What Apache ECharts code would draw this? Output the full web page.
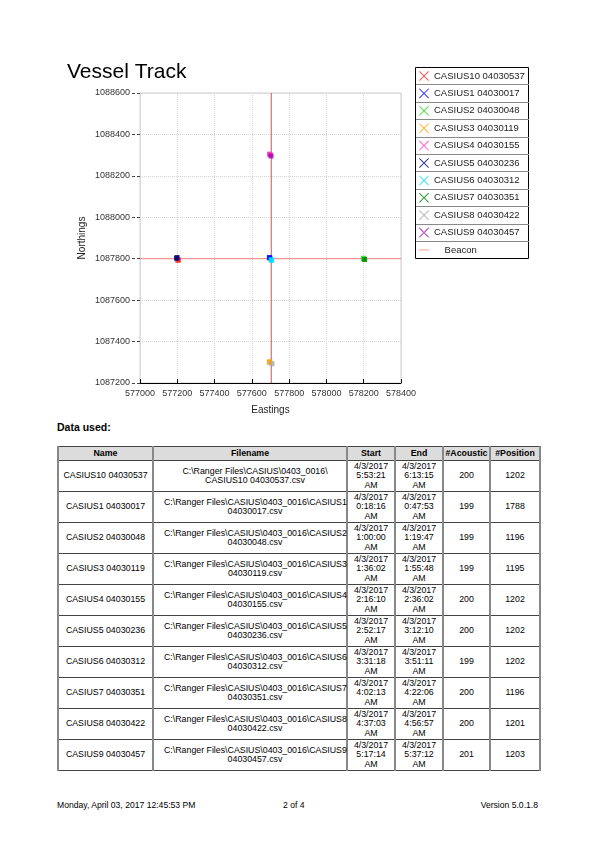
<!DOCTYPE html>
<html>
<head>
<meta charset="utf-8">
<script src="https://cdn.jsdelivr.net/npm/echarts@6/dist/echarts.min.js"></script>
<style>
  html, body { margin: 0; padding: 0; background: #fff; }
  body { width: 595px; height: 842px; position: relative; font-family: "Liberation Sans", Arial, sans-serif; color: #000; }
  #chart { position: absolute; left: 0; top: 0; width: 595px; height: 420px; }
  #dataUsed { position: absolute; left: 57px; top: 421px; font-size: 10.5px; font-weight: bold; }
  #tbl { position: absolute; left: 57px; top: 446px; width: 482px; border-collapse: collapse; table-layout: fixed; font-size: 8.8px; }
  #tbl th, #tbl td { border-top: 1px solid #444; border-bottom: 1px solid #444; border-left: 2px solid #888; border-right: 2px solid #888; text-align: center; vertical-align: middle; padding: 0; }
  #tbl th { background: #dcdcdc; height: 13px; font-weight: bold; line-height: 11px; }
  #tbl td { height: 30px; line-height: 9.5px; }
  #tbl td.fn { white-space: nowrap; padding-left: 10px; padding-right: 0; overflow: visible; }
  .foot { position: absolute; top: 800px; font-size: 8.6px; }
</style>
</head>
<body>
<div id="chart"></div>
<div id="dataUsed">Data used:</div>
<table id="tbl"></table>
<div class="foot" style="left:57px">Monday, April 03, 2017 12:45:53 PM</div>
<div class="foot" style="left:283px">2 of 4</div>
<div class="foot" style="right:57px">Version 5.0.1.8</div>
<script>
// ---------- data ----------
const seriesNames = ['CASIUS10 04030537','CASIUS1 04030017','CASIUS2 04030048','CASIUS3 04030119','CASIUS4 04030155',
                     'CASIUS5 04030236','CASIUS6 04030312','CASIUS7 04030351','CASIUS8 04030422','CASIUS9 04030457'];
const seriesColors = ['#ff2a2a','#0000ff','#22dd22','#ffa000','#ff30c0','#000080','#00e0ff','#008000','#a8a8a8','#a000b0'];
const casius10 = [[577206,1087795],[577203,1087792]];
const casius1  = [[577697,1087803],[577694,1087806]];
const casius2  = [[578198,1087802],[578203,1087798]];
const casius3  = [[577697,1087303],[577694,1087300]];
const casius4  = [[577698,1088302],[577695,1088305]];
const casius5  = [[577196,1087802],[577199,1087806]];
const casius6  = [[577703,1087795],[577706,1087792]];
const casius7  = [[578205,1087796]];
const casius8  = [[577708,1087293]];
const casius9  = [[577703,1088296]];
const seriesPoints = [casius10, casius1, casius2, casius3, casius4, casius5, casius6, casius7, casius8, casius9];
const beaconHorizontal = [[577000,1087800],[578400,1087800]];
const beaconVertical = [[577704,1088600],[577704,1087200]];
const eastMin = 577000, eastMax = 578400, eastStep = 200;
const northMin = 1087200, northMax = 1088600, northStep = 200;

// table
const tableHeaders = ['Name','Filename','Start','End','#Acoustic','#Position'];
const fileNames = ['C:\\Ranger Files\\CASIUS\\0403_0016\\\nCASIUS10 04030537.csv',
  'C:\\Ranger Files\\CASIUS\\0403_0016\\CASIUS1\n04030017.csv',
  'C:\\Ranger Files\\CASIUS\\0403_0016\\CASIUS2\n04030048.csv',
  'C:\\Ranger Files\\CASIUS\\0403_0016\\CASIUS3\n04030119.csv',
  'C:\\Ranger Files\\CASIUS\\0403_0016\\CASIUS4\n04030155.csv',
  'C:\\Ranger Files\\CASIUS\\0403_0016\\CASIUS5\n04030236.csv',
  'C:\\Ranger Files\\CASIUS\\0403_0016\\CASIUS6\n04030312.csv',
  'C:\\Ranger Files\\CASIUS\\0403_0016\\CASIUS7\n04030351.csv',
  'C:\\Ranger Files\\CASIUS\\0403_0016\\CASIUS8\n04030422.csv',
  'C:\\Ranger Files\\CASIUS\\0403_0016\\CASIUS9\n04030457.csv'];
const runDate = '4/3/2017';
const startTimes = ['5:53:21','0:18:16','1:00:00','1:36:02','2:16:10','2:52:17','3:31:18','4:02:13','4:37:03','5:17:14'];
const endTimes   = ['6:13:15','0:47:53','1:19:47','1:55:48','2:36:02','3:12:10','3:51:11','4:22:06','4:56:57','5:37:12'];
const acousticCounts = [200,199,199,199,200,200,199,200,200,201];
const positionCounts = [1202,1788,1196,1195,1202,1202,1202,1196,1201,1203];

// ---------- table ----------
const colWidths = [95,194,48,48,47,50];
const esc = s => s.replace(/&/g,'&amp;').replace(/</g,'&lt;');
let html = '<colgroup>' + colWidths.map(w => '<col style="width:' + w + 'px">').join('') + '</colgroup>';
html += '<tr>' + tableHeaders.map(h => '<th>' + esc(h) + '</th>').join('') + '</tr>';
for (let i = 0; i < seriesNames.length; i++) {
  html += '<tr><td>' + esc(seriesNames[i]) + '</td>' +
    '<td class="fn">' + esc(fileNames[i]).replace('\n','<br>') + '</td>' +
    '<td>' + runDate + '<br>' + startTimes[i] + '<br>AM</td>' +
    '<td>' + runDate + '<br>' + endTimes[i] + '<br>AM</td>' +
    '<td>' + acousticCounts[i] + '</td><td>' + positionCounts[i] + '</td></tr>';
}
document.getElementById('tbl').innerHTML = html;

// ---------- chart ----------
const FONT = '"Liberation Sans", Arial, sans-serif';
const xIcon = 'path://M0,0.7L0.7,0L10,9.3L9.3,10Z M9.3,0L10,0.7L0.7,10L0,9.3Z';
const lineIcon = 'path://M0,4.6L10,4.6L10,5.4L0,5.4Z';
const chart = echarts.init(document.getElementById('chart'), null, {renderer: 'canvas'});
const series = seriesNames.map((n, i) => ({
  name: n, type: 'scatter', data: seriesPoints[i], symbol: 'rect', symbolSize: 5,
  itemStyle: {color: seriesColors[i]}, z: 5, animation: false
}));
series.push({name: 'Beacon', type: 'line', data: beaconHorizontal, showSymbol: false, symbol: 'none',
  lineStyle: {color: '#f28080', width: 1}, itemStyle: {color: '#f28080'}, z: 3, animation: false});
series.push({name: 'Beacon', type: 'line', data: beaconVertical, showSymbol: false, symbol: 'none',
  lineStyle: {color: '#c45656', width: 1}, itemStyle: {color: '#f28080'}, z: 3, animation: false});

const sepLines = [];
for (let k = 1; k <= 10; k++) {
  const y = Math.round(67 + 17.4 * k) + 0.5;
  sepLines.push({type: 'line', shape: {x1: 416, y1: y, x2: 529, y2: y}, style: {stroke: '#8a8a8a', lineWidth: 1}, z: 1});
}

chart.setOption({
  animation: false,
  title: {text: 'Vessel Track', left: 67, top: 62, padding: 0,
    textStyle: {fontFamily: FONT, fontSize: 21, fontWeight: 'normal', color: '#000'}},
  grid: {left: 140, top: 93, width: 261, height: 290, show: true, borderColor: '#cfcfcf', borderWidth: 1, containLabel: false},
  legend: {
    orient: 'vertical', left: 419, top: 70, padding: 0, itemWidth: 10, itemHeight: 10, itemGap: 5.4, itemTextGap: 3,
    selectedMode: false,
    formatter: n => n === 'Beacon' ? '    Beacon' : n,
    textStyle: {fontFamily: FONT, fontSize: 9.5, color: '#222', lineHeight: 12},
    data: seriesNames.map(n => ({name: n, icon: xIcon})).concat([{name: 'Beacon', icon: lineIcon}])
  },
  graphic: [{type: 'rect', shape: {x: 415.5, y: 67.5, width: 113, height: 191}, style: {fill: 'none', stroke: '#000', lineWidth: 1}, z: 1}].concat(sepLines),
  xAxis: {
    type: 'value', min: eastMin, max: eastMax, interval: eastStep,
    name: 'Eastings', nameLocation: 'middle', nameGap: 22,
    nameTextStyle: {fontFamily: FONT, fontSize: 10, color: '#222'},
    axisLine: {show: true, lineStyle: {color: '#000', width: 1}},
    axisTick: {show: true, inside: true, length: 4, lineStyle: {color: '#000'}},
    axisLabel: {fontFamily: FONT, fontSize: 9, color: '#333', margin: 6, formatter: v => String(v)},
    splitLine: {show: true, lineStyle: {color: '#d4d4d4', type: 'dotted', width: 1}}
  },
  yAxis: {
    type: 'value', min: northMin, max: northMax, interval: northStep,
    name: 'Northings', nameLocation: 'middle', nameGap: 53,
    nameTextStyle: {fontFamily: FONT, fontSize: 10, color: '#222'},
    axisLine: {show: false},
    axisTick: {show: true, inside: false, length: 8, lineStyle: {color: '#444', type: [3, 2]}},
    axisLabel: {fontFamily: FONT, fontSize: 9, color: '#333', margin: 10, formatter: v => String(v)},
    splitLine: {show: true, lineStyle: {color: '#d4d4d4', type: 'dotted', width: 1}}
  },
  series: series
});
</script>
</body>
</html>
